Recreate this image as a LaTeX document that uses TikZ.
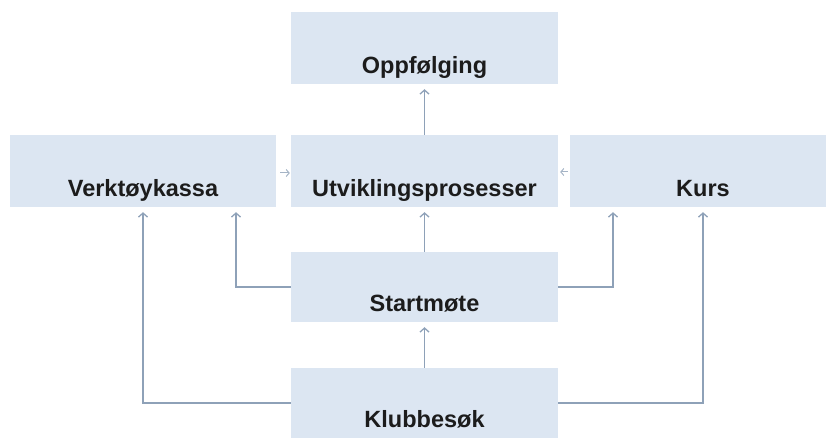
\documentclass[tikz,border=0pt]{standalone}
\usepackage{fontspec}
\setmainfont{Liberation Sans}
\usetikzlibrary{arrows.meta}
\definecolor{boxfill}{HTML}{DCE6F2}
\definecolor{linkcol}{HTML}{8EA1B8}
\definecolor{textcol}{HTML}{1C1C1C}
\tikzset{
  box/.style={rectangle,fill=boxfill,minimum width=267pt,inner xsep=0pt,inner ysep=0pt,
    text height=62pt,text depth=10pt,text=textcol,font=\bfseries\fontsize{23.5}{26}\selectfont},
  link/.style={draw=linkcol,line width=1.3pt,-{Straight Barb[length=4pt,width=9pt]},shorten >=5pt},
  side/.style={draw=linkcol!80,line width=1pt,-{Straight Barb[length=3pt,width=7pt]}}
}
\begin{document}
\begin{tikzpicture}[x=1pt,y=1pt]
      \useasboundingbox (0,0) rectangle (826,438);
      \begin{scope}
      \clip (0,0) rectangle (826,438);
        \node[box] (oppf) at (424.5,390) {Oppfølging};
        \node[box] (utv) at (424.5,267) {Utviklingsprosesser};
        \node[box,minimum width=266pt] (verk) at (143,267) {Verktøykassa};
        \node[box,minimum width=266pt] (kurs) at (703,267) {Kurs};
        \node[box,text height=60pt] (start) at (424.5,151) {Startmøte};
        \node[box,text height=60pt] (klubb) at (424.5,35) {Klubbesøk};
      \end{scope}

      \draw[link] (utv) -- (oppf);
      \draw[link] (start) -- (utv);
      \draw[link] (klubb) -- (start);
      \draw[side,shorten <=4pt,shorten >=1pt] ([yshift=-2pt]verk.east) -- ([yshift=-2pt]utv.west);
      \draw[side,shorten <=2pt,shorten >=2pt] ([yshift=-1pt]kurs.west) -- ([yshift=-1pt]utv.east);

      \draw[link] (start.west) -| ([xshift=93pt]verk.south);
      \draw[link] (klubb.west) -| (verk.south);
      \draw[link] (start.east) -| ([xshift=-90pt]kurs.south);
      \draw[link] (klubb.east) -| (kurs.south);
\end{tikzpicture}
\end{document}
